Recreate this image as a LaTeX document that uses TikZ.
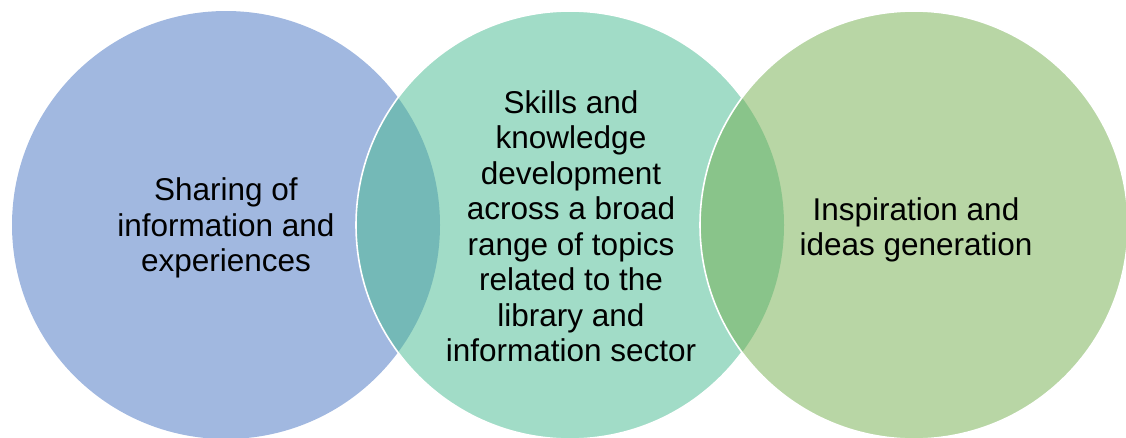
\documentclass[tikz,border=0pt]{standalone}
\usepackage{fontspec}
\setmainfont{Liberation Sans}
\definecolor{cblue}{HTML}{A1B8E0}
\definecolor{cteal}{HTML}{A1DCC7}
\definecolor{cgreen}{HTML}{B8D6A5}
\definecolor{lensA}{HTML}{74B9B7}
\definecolor{lensB}{HTML}{89C48A}
\begin{document}
\begin{tikzpicture}[x=1pt,y=-1pt,
  ring/.style={draw=white,line width=1.6pt},
  label/.style={align=center,font=\fontsize{31.5}{35.5}\selectfont,text=black}]
\useasboundingbox (0,0) rectangle (1126,437);
\def\R{214pt}
\coordinate (c1) at (226,225);
\coordinate (c2) at (570,225);
\coordinate (c3) at (914,225);
% left circle
\fill[cblue] (c1) circle[radius=\R];
% middle circle with its overlap
\fill[cteal] (c2) circle[radius=\R];
\begin{scope}
  \clip (c1) circle[radius=\R];
  \fill[lensA] (c2) circle[radius=\R];
\end{scope}
\draw[ring] (c2) circle[radius=\R];
% right circle with its overlap
\fill[cgreen] (c3) circle[radius=\R];
\begin{scope}
  \clip (c2) circle[radius=\R];
  \fill[lensB] (c3) circle[radius=\R];
\end{scope}
\draw[ring] (c3) circle[radius=\R];
% texts
\node[label] (t1) at ([yshift=-3]c1) {Sharing of\\information and\\experiences};
\node[label] (t2) at ([xshift=1,yshift=-1]c2) {Skills and\\knowledge\\development\\across a broad\\range of topics\\related to the\\library and\\information sector};
\node[label] (t3) at ([xshift=2,yshift=-5]c3) {Inspiration and\\ideas generation};
\end{tikzpicture}
\end{document}
